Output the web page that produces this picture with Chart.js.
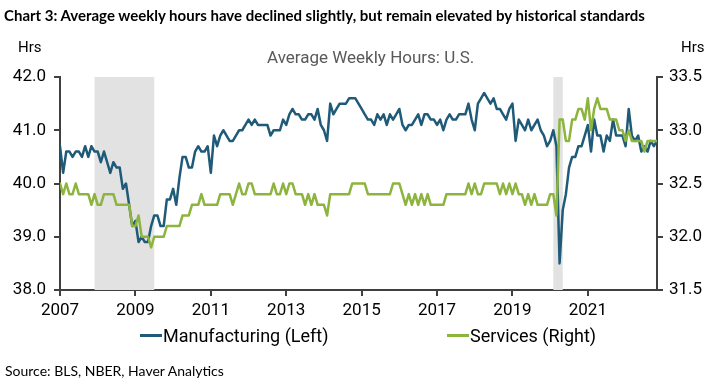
<!DOCTYPE html>
<html>
<head>
<meta charset="utf-8">
<script src="https://cdn.jsdelivr.net/npm/chart.js@4.4.0/dist/chart.umd.min.js"></script>
<style>
  html, body { margin: 0; padding: 0; background: #fff; }
  #wrap { position: relative; width: 725px; height: 387px; overflow: hidden; }
  #chart { position: absolute; left: 0; top: 0; }
  .txt { position: absolute; white-space: nowrap; line-height: 1; transform-origin: 0 50%; }
  .calibri { font-family: Lato, "Open Sans", sans-serif; color: #000; }
  .narrow { font-family: Roboto, "Liberation Sans", sans-serif; }
  .swatch { position: absolute; height: 3px; width: 22px; }
</style>
</head>
<body>
<div id="wrap">
  <canvas id="chart" width="725" height="387"></canvas>
  <div id="title" class="txt calibri" style="font-weight:700;font-size:15px">Chart 3: Average weekly hours have declined slightly, but remain elevated by historical standards</div>
  <div id="hrsLeft" class="txt narrow" style="font-size:15px">Hrs</div>
  <div id="hrsRight" class="txt narrow" style="font-size:15px">Hrs</div>
  <div id="subtitle" class="txt narrow" style="font-size:17px;color:#595959">Average Weekly Hours: U.S.</div>
  <div class="swatch" style="left:140px;top:334px;background:#1f5b79"></div>
  <div id="leg1" class="txt narrow" style="font-size:18px">Manufacturing (Left)</div>
  <div class="swatch" style="left:447px;top:334px;background:#8db43e"></div>
  <div id="leg2" class="txt narrow" style="font-size:18px">Services (Right)</div>
  <div id="source" class="txt calibri" style="font-size:14px">Source: BLS, NBER, Haver Analytics</div>
</div>
<script>
// monthly data, Jan 2007 .. Nov 2022
const startYear = 2007;
const manufacturing = [
  40.7, 40.2, 40.6, 40.6, 40.5, 40.6, 40.6, 40.5, 40.7, 40.5, 40.7, 40.6,
  40.6, 40.4, 40.6, 40.4, 40.2, 40.4, 40.3, 40.3, 39.9, 40.0, 39.6, 39.2,
  39.3, 38.9, 39.0, 38.9, 38.9, 39.2, 39.4, 39.4, 39.2, 39.2, 39.7, 39.7,
  39.9, 39.6, 40.1, 40.5, 40.5, 40.3, 40.3, 40.6, 40.7, 40.6, 40.6, 40.7,
  40.2, 40.9, 40.7, 40.9, 41.0, 40.9, 40.8, 40.8, 40.9, 41.0, 41.0, 41.1,
  41.2, 41.1, 41.2, 41.1, 41.1, 41.1, 41.1, 40.9, 41.0, 41.0, 41.0, 41.2,
  41.1, 41.3, 41.4, 41.3, 41.3, 41.2, 41.2, 41.3, 41.3, 41.2, 41.4, 41.1,
  41.0, 40.8, 41.5, 41.3, 41.4, 41.5, 41.5, 41.5, 41.6, 41.6, 41.6, 41.5,
  41.4, 41.3, 41.2, 41.2, 41.1, 41.3, 41.2, 41.3, 41.1, 41.3, 41.2, 41.3,
  41.4, 41.1, 41.0, 41.1, 41.1, 41.2, 41.3, 41.1, 41.3, 41.3, 41.2, 41.2,
  41.1, 41.2, 41.0, 41.2, 41.3, 41.2, 41.2, 41.3, 41.3, 41.3, 41.5, 41.2,
  41.0, 41.5, 41.6, 41.7, 41.6, 41.5, 41.6, 41.4, 41.4, 41.3, 41.2, 41.4,
  41.5, 40.8, 41.2, 41.1, 41.0, 41.2, 41.0, 41.1, 41.2, 41.0, 40.9, 40.7,
  40.8, 41.0, 40.7, 38.5, 39.5, 39.8, 40.3, 40.5, 40.5, 40.7, 40.7, 40.9,
  41.1, 40.6, 41.2, 40.9, 40.9, 40.6, 40.9, 40.8, 41.2, 40.9, 40.9, 40.9,
  40.7, 41.4, 40.9, 40.8, 40.9, 40.6, 40.7, 40.6, 40.8, 40.7, 40.8
];
const services = [
  32.5, 32.4, 32.5, 32.4, 32.4, 32.5, 32.4, 32.4, 32.4, 32.4, 32.3, 32.4,
  32.3, 32.3, 32.4, 32.4, 32.4, 32.4, 32.3, 32.3, 32.3, 32.3, 32.3, 32.1,
  32.1, 32.2, 32.0, 32.0, 32.0, 31.9, 32.0, 32.0, 32.0, 32.0, 32.1, 32.1,
  32.1, 32.1, 32.1, 32.2, 32.2, 32.2, 32.3, 32.3, 32.3, 32.4, 32.3, 32.3,
  32.3, 32.3, 32.3, 32.4, 32.4, 32.4, 32.4, 32.3, 32.4, 32.5, 32.4, 32.4,
  32.5, 32.5, 32.4, 32.4, 32.4, 32.4, 32.4, 32.4, 32.5, 32.4, 32.4, 32.5,
  32.4, 32.5, 32.5, 32.4, 32.4, 32.4, 32.3, 32.4, 32.3, 32.4, 32.3, 32.3,
  32.3, 32.2, 32.4, 32.4, 32.4, 32.4, 32.4, 32.4, 32.4, 32.5, 32.5, 32.5,
  32.5, 32.5, 32.4, 32.4, 32.4, 32.4, 32.4, 32.4, 32.4, 32.4, 32.5, 32.5,
  32.5, 32.4, 32.3, 32.4, 32.3, 32.4, 32.3, 32.4, 32.3, 32.4, 32.3, 32.3,
  32.3, 32.3, 32.3, 32.4, 32.4, 32.4, 32.4, 32.4, 32.4, 32.4, 32.5, 32.4,
  32.5, 32.4, 32.4, 32.5, 32.5, 32.5, 32.5, 32.5, 32.4, 32.5, 32.4, 32.5,
  32.4, 32.5, 32.4, 32.4, 32.3, 32.4, 32.3, 32.4, 32.3, 32.3, 32.3, 32.3,
  32.4, 32.4, 32.2, 33.1, 33.1, 32.9, 32.9, 33.1, 33.1, 33.2, 33.2, 33.1,
  33.3, 33.0, 33.2, 33.3, 33.2, 33.2, 33.2, 33.1, 33.1, 33.1, 33.0, 33.0,
  32.9, 33.0, 32.9, 32.9, 32.9, 32.9, 32.8, 32.9, 32.9, 32.9, 32.9
];
const yearTicks = [2007, 2009, 2011, 2013, 2015, 2017, 2019, 2021];
const leftTicks = [38, 39, 40, 41, 42];
const rightTicks = [31.5, 32, 32.5, 33, 33.5];
// NBER recessions: Dec 2007 - Jun 2009, Feb 2020 - Apr 2020 (in decimal years)
const recessions = [[2007 + 11 / 12, 2009.5], [2020 + 1 / 12, 2020 + 4 / 12]];

const BLUE = '#1f5b79';
const GREEN = '#8db43e';
const AXIS = '#404040';
const TICK_FONT = { family: 'Roboto, "Liberation Sans", sans-serif', size: 17 };

const toPoints = (arr) => arr.map((v, i) => ({ x: startYear + i / 12, y: v }));

// grey bands for recessions
const recessionBands = {
  id: 'recessionBands',
  beforeDatasetsDraw(chart) {
    const { ctx, chartArea, scales } = chart;
    ctx.save();
    ctx.fillStyle = '#e2e2e2';
    recessions.forEach(([a, b]) => {
      const x0 = scales.x.getPixelForValue(a);
      const x1 = scales.x.getPixelForValue(b);
      ctx.fillRect(x0, chartArea.top, x1 - x0, chartArea.bottom - chartArea.top);
    });
    ctx.restore();
  }
};

const axisStyle = {
  border: { display: true, color: AXIS, width: 2 },
  grid: { display: true, drawOnChartArea: false, drawTicks: true, tickLength: 6, color: AXIS, lineWidth: 2 },
};

new Chart(document.getElementById('chart'), {
  type: 'line',
  data: {
    datasets: [
      {
        label: 'Manufacturing (Left)',
        data: toPoints(manufacturing),
        borderColor: BLUE,
        borderWidth: 2.5,
        yAxisID: 'y',
        order: 1,
      },
      {
        label: 'Services (Right)',
        data: toPoints(services),
        borderColor: GREEN,
        borderWidth: 2.5,
        yAxisID: 'y1',
        order: 0,
      },
    ],
  },
  options: {
    responsive: false,
    animation: false,
    layout: { padding: { top: 77, left: 0, right: 0, bottom: 0 } },
    elements: {
      point: { radius: 0 },
      line: { tension: 0, borderJoinStyle: 'round', borderCapStyle: 'round' },
    },
    plugins: {
      legend: { display: false },
      title: { display: false },
      tooltip: { enabled: false },
    },
    scales: {
      x: {
        type: 'linear',
        min: startYear,
        max: startYear + (manufacturing.length - 1) / 12,
        ...axisStyle,
        afterBuildTicks: (scale) => { scale.ticks = yearTicks.map((v) => ({ value: v })); },
        afterFit: (scale) => { scale.height = 97; },
        ticks: { color: '#000', font: TICK_FONT, padding: 5, maxRotation: 0, callback: (v) => String(v) },
      },
      y: {
        position: 'left',
        min: 38,
        max: 42,
        ...axisStyle,
        afterBuildTicks: (scale) => { scale.ticks = leftTicks.map((v) => ({ value: v })); },
        afterFit: (scale) => { scale.width = 60; },
        ticks: { color: '#000', font: TICK_FONT, padding: 8, callback: (v) => v.toFixed(1) },
      },
      y1: {
        position: 'right',
        min: 31.5,
        max: 33.5,
        ...axisStyle,
        afterBuildTicks: (scale) => { scale.ticks = rightTicks.map((v) => ({ value: v })); },
        afterFit: (scale) => { scale.width = 68; },
        ticks: { color: '#000', font: TICK_FONT, padding: 6, callback: (v) => v.toFixed(1) },
      },
    },
  },
  plugins: [recessionBands],
});

// place overlay texts: left edge, vertical centre, target width
function place(id, left, cy, width) {
  const el = document.getElementById(id);
  const w = el.getBoundingClientRect().width;
  const k = width ? width / w : 1;
  el.style.left = left + 'px';
  el.style.top = cy + 'px';
  el.style.transform = 'translateY(-50%) scaleX(' + k + ')';
}
function layoutTexts() {
  place('title', 4, 15, 667);
  place('hrsLeft', 18, 47, 18);
  place('hrsRight', 681, 47, 18);
  place('subtitle', 267, 57, 193);
  place('leg1', 163, 336, 152);
  place('leg2', 470, 336, 116);
  place('source', 5, 371, 232);
}
layoutTexts();
if (document.fonts && document.fonts.ready) document.fonts.ready.then(layoutTexts);
</script>
</body>
</html>
